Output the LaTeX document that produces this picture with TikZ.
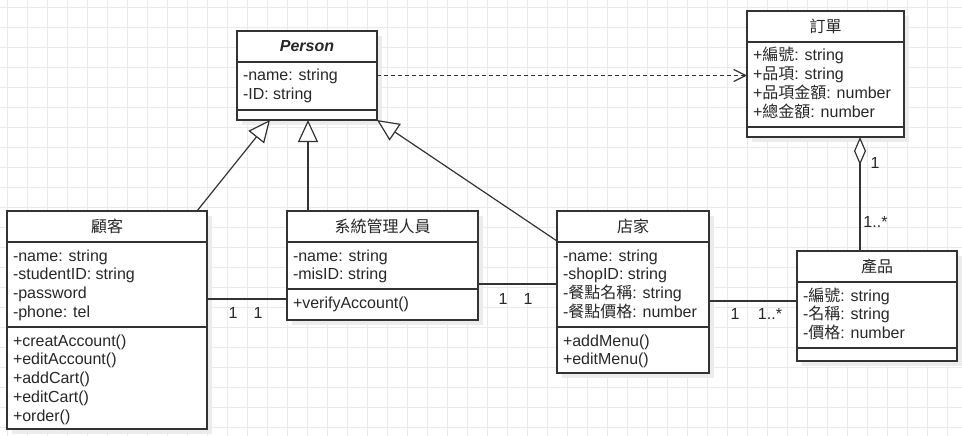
\documentclass[tikz,border=0pt]{standalone}
\usepackage{fontspec}
\setmainfont{Liberation Sans}
\newfontfamily\cjk{Noto Sans CJK TC}
\usetikzlibrary{arrows.meta,calc}
\definecolor{gridc}{RGB}{234,234,234}
\definecolor{linec}{RGB}{51,51,51}
\definecolor{textc}{RGB}{40,40,40}
\definecolor{shadowc}{RGB}{236,236,236}
\tikzset{
  classbox/.style={rectangle, draw=linec, line width=1.2pt, fill=white, inner sep=0pt, outer sep=0pt},
  sepl/.style={draw=linec, line width=1.2pt},
  gridl/.style={draw=gridc, line width=0.8pt},
  txt/.style={inner sep=0pt, outer sep=0pt, text=textc, font=\fontsize{16}{19}\selectfont},
  ttl/.style={txt, anchor=center},
  lbl/.style={txt, anchor=center},
  conn/.style={draw=linec, line width=1.2pt},
  inherit/.style={conn, -{Triangle[open, length=22pt, width=20pt, fill=white]}},
  depend/.style={conn, dash pattern=on 4pt off 3pt, -{Straight Barb[length=12pt, width=12pt]}},
  aggreg/.style={conn, {Diamond[open, length=28pt, width=12pt, fill=white]}-},
}
\newcommand\sepline[2]{\draw[sepl] ($(#1.north west)+(0,#2)$) -- ($(#1.north east)+(0,#2)$);}
\newcommand\rows[4]{%
  \foreach \t [count=\i] in {#3} {
    \node[txt, anchor=base west] (#4\i) at ($(#1.north west)+(6,{#2+19+(\i-1)*18.75})$) {\t};
  }}
\begin{document}
\begin{tikzpicture}[x=1pt, y=-1pt]
\useasboundingbox (0,0) rectangle (962,436);
\fill[white] (0,0) rectangle (962,436);
% grid
\foreach \gx in {7,27,...,947} \draw[gridl] (\gx,0) -- (\gx,436);
\foreach \gy in {7,27,...,427} \draw[gridl] (0,\gy) -- (962,\gy);
% shadows
\fill[shadowc] (242,36) rectangle (382,125);
\fill[shadowc] (752,16) rectangle (909,142);
\fill[shadowc] (12,216) rectangle (212,434);
\fill[shadowc] (292,216) rectangle (483,325);
\fill[shadowc] (562,216) rectangle (714,378);
\fill[shadowc] (802,256) rectangle (962,366);
% Person
\node[classbox, minimum width=140pt, minimum height=89pt] (person) at (307,75.5) {};
\sepline{person}{31}
\sepline{person}{79}
\node[ttl] (personT) at ($(person.north)+(0,15.5)$) {\bfseries\itshape Person};
\rows{person}{31}{-name: string,-ID: string}{personA}
% Order
\node[classbox, minimum width=157pt, minimum height=126pt] (order) at (825.5,74) {};
\sepline{order}{31}
\sepline{order}{116}
\node[ttl] (orderT) at ($(order.north)+(0,15.5)$) {\cjk 訂單};
\rows{order}{31}{+{\cjk 編號}: string,+{\cjk 品項}: string,+{\cjk 品項金額}: number,+{\cjk 總金額}: number}{orderA}
% Customer
\node[classbox, minimum width=200pt, minimum height=218pt] (kehu) at (107,320) {};
\sepline{kehu}{31}
\sepline{kehu}{116}
\node[ttl] (kehuT) at ($(kehu.north)+(0,15.5)$) {\cjk 顧客};
\rows{kehu}{31}{-name: string,-studentID: string,-password,-phone: tel}{kehuA}
\rows{kehu}{116}{+creatAccount(),+editAccount(),+addCart(),+editCart(),+order()}{kehuM}
% Admin
\node[classbox, minimum width=191pt, minimum height=109pt] (admin) at (382.5,265.5) {};
\sepline{admin}{31}
\sepline{admin}{78}
\node[ttl] (adminT) at ($(admin.north)+(0,15.5)$) {\cjk 系統管理人員};
\rows{admin}{31}{-name: string,-misID: string}{adminA}
\rows{admin}{78}{+verifyAccount()}{adminM}
% Shop
\node[classbox, minimum width=152pt, minimum height=162pt] (shop) at (633,292) {};
\sepline{shop}{31}
\sepline{shop}{116}
\node[ttl] (shopT) at ($(shop.north)+(0,15.5)$) {\cjk 店家};
\rows{shop}{31}{-name: string,-shopID: string,-{\cjk 餐點名稱}: string,-{\cjk 餐點價格}: number}{shopA}
\rows{shop}{116}{+addMenu(),+editMenu()}{shopM}
% Product
\node[classbox, minimum width=160pt, minimum height=110pt] (product) at (877,306) {};
\sepline{product}{31}
\sepline{product}{97}
\node[ttl] (productT) at ($(product.north)+(0,15.5)$) {\cjk 產品};
\rows{product}{31}{-{\cjk 編號}: string,-{\cjk 名稱}: string,-{\cjk 價格}: number}{productA}
% generalizations
\draw[inherit] ($(kehu.north)+(90,0)$) -- ($(person.south)+(-37,0)$);
\coordinate (adminTop) at ($(admin.north west)+(21,0)$);
\draw[inherit] (adminTop) -- (person.south -| adminTop);
\draw[inherit] ($(shop.north west)+(0,30)$) -- (person.south east);
% dependency
\draw[depend] (person.east) -- (person.east -| order.west);
% associations
\coordinate (a1) at ($(kehu.north east)+(0,88)$);
\draw[conn] (a1) -- (a1 -| admin.west);
\coordinate (a2) at ($(admin.north east)+(0,73)$);
\draw[conn] (a2) -- (a2 -| shop.west);
\coordinate (a3) at ($(shop.north east)+(0,90)$);
\draw[conn] (a3) -- (a3 -| product.west);
% aggregation
\coordinate (pTop) at ($(product.north west)+(63,0)$);
\draw[aggreg] (order.south -| pTop) -- (pTop);
% multiplicities
\node[lbl] (m1) at (233,313) {1};
\node[lbl] (m2) at (258,313) {1};
\node[lbl] (m3) at (503,299) {1};
\node[lbl] (m4) at (528,299) {1};
\node[lbl] (m5) at (735,314) {1};
\node[lbl] (m6) at (770,314) {1..*};
\node[lbl] (m7) at (875,163) {1};
\node[lbl] (m8) at (875.5,222) {1..*};
\end{tikzpicture}
\end{document}
